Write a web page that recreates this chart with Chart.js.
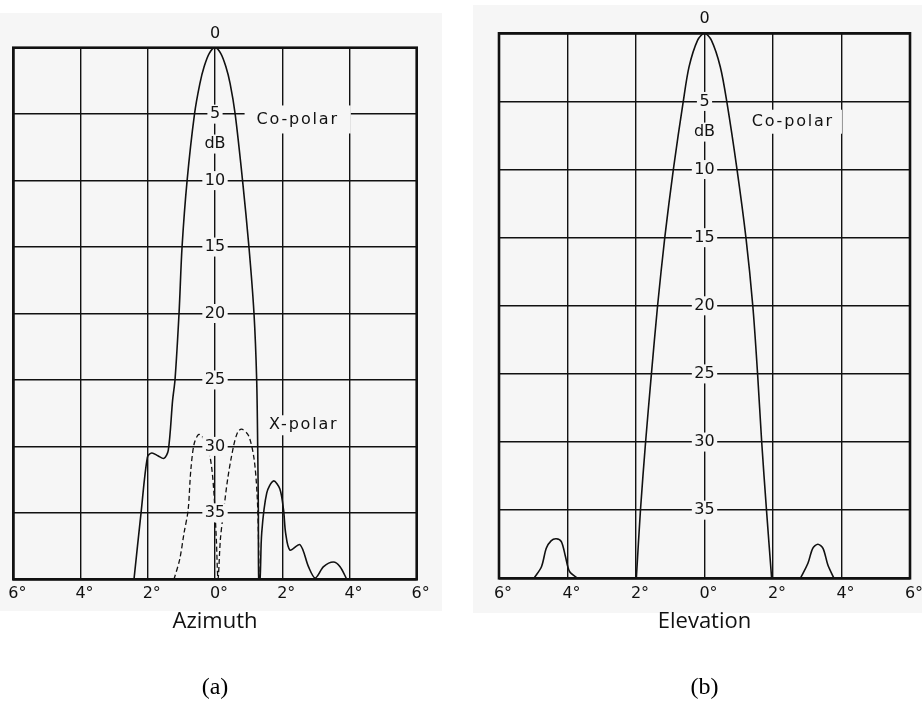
<!DOCTYPE html>
<html>
<head>
<meta charset="utf-8">
<title>Antenna radiation patterns</title>
<script src="https://cdn.jsdelivr.net/npm/chart.js@4.4.1/dist/chart.umd.min.js"></script>
<style>
  html, body { margin: 0; padding: 0; background: #ffffff; }
  body { width: 922px; height: 704px; position: relative; overflow: hidden; }
  .paper { position: absolute; background: #f6f6f6; }
  .panel { position: absolute; top: 0; height: 704px; }
</style>
</head>
<body>
<div class="paper" style="left:0;top:13px;width:442px;height:598px"></div>
<div class="paper" style="left:473px;top:5px;width:449px;height:608px"></div>
<div class="panel" style="left:0;width:440px"><canvas id="azimuth"></canvas></div>
<div class="panel" style="left:460px;width:462px"><canvas id="elevation"></canvas></div>
<script>
// Angle axis tick labels (degrees off boresight) and level tick labels (dB down)
const angleTickLabels = ['6°', '4°', '2°', '0°', '2°', '4°', '6°'];
const levelTicks = [0, -5, -10, -15, -20, -25, -30, -35, -40];
const levelTickLabels = ['0', '5', '10', '15', '20', '25', '30', '35', ''];

// (a) Azimuth, co-polar pattern
const azCoDeg = [-2.41, -2.20, -2.01, -1.88, -1.70, -1.52, -1.39, -1.26, -1.19, -1.07, -0.98, -0.83, -0.61, -0.45, -0.32, -0.17, 0,
                 0.17, 0.32, 0.45, 0.60, 0.82, 1.01, 1.16, 1.24, 1.27, 1.29, 1.30, 1.34, 1.39, 1.54, 1.74, 1.93, 2.04, 2.10,
                 2.23, 2.53, 2.78, 2.98, 3.23, 3.52, 3.72, 3.92];
const azCoDb  = [-40, -35, -30.8, -30.5, -30.7, -30.9, -30.3, -26.5, -25, -20, -15, -10, -5, -2.7, -1.4, -0.42, 0,
                 -0.42, -1.4, -2.7, -5, -10, -15, -20, -25, -30, -35, -40, -40, -36.5, -33.5, -32.6, -33.2, -34.8, -36.5,
                 -37.8, -37.4, -39.05, -39.9, -39.05, -38.7, -39.05, -40];

// (a) Azimuth, cross-polar pattern
const azXDeg = [-1.22, -1.05, -0.92, -0.80, -0.72, -0.62, -0.48, -0.32, -0.14, -0.04, 0.04, 0.09, 0.16, 0.25,
                0.38, 0.55, 0.68, 0.80, 1.00, 1.16, 1.25, 1.29, 1.31];
const azXDb  = [-40, -38.5, -36.5, -34.8, -31.8, -29.8, -29.1, -29.5, -30.9, -33.2, -37, -40, -37, -35,
                -32.4, -30, -28.9, -28.7, -29.2, -30.9, -33.5, -36.5, -40];

// (b) Elevation, co-polar main lobe and the two side lobes
const elMainDeg = [-1.99, -1.87, -1.72, -1.55, -1.37, -1.16, -0.91, -0.62, -0.45, -0.20, 0,
                   0.20, 0.46, 0.65, 0.95, 1.21, 1.41, 1.55, 1.67, 1.81, 1.96];
const elMainDb  = [-40, -35, -30, -25, -20, -15, -10, -5, -2.45, -0.5, 0,
                   -0.5, -2.45, -5, -10, -15, -20, -25, -30, -35, -40];
const elLeftLobeDeg = [-4.98, -4.76, -4.62, -4.48, -4.33, -4.18, -4.06, -3.94, -3.70];
const elLeftLobeDb  = [-40, -39.15, -37.8, -37.25, -37.1, -37.3, -38.4, -39.5, -40];
const elRightLobeDeg = [2.80, 3.02, 3.16, 3.31, 3.46, 3.60, 3.78];
const elRightLobeDb  = [-40, -38.9, -37.8, -37.5, -37.8, -39.0, -40];

const INK = '#111111';
const PAPER = '#f6f6f6';
const TICK_FONT = '16px "DejaVu Sans"';

const toPoints = (deg, db) => deg.map((x, i) => ({ x, y: db[i] }));

// Frame, the dB scale written along the 0° line, and the curve captions
const patternDecor = {
  id: 'patternDecor',
  afterDatasetsDraw(chart, args, opts) {
    const { ctx, chartArea: a, scales: { x, y } } = chart;
    ctx.save();
    ctx.lineWidth = 2.6;
    ctx.strokeStyle = INK;
    ctx.strokeRect(a.left, a.top, a.right - a.left, a.bottom - a.top);

    const cx = x.getPixelForValue(0);
    ctx.font = TICK_FONT;
    ctx.textAlign = 'center';
    ctx.textBaseline = 'middle';
    const boxed = (text, px, py, padX, padY) => {
      const w = ctx.measureText(text).width;
      ctx.fillStyle = PAPER;
      ctx.fillRect(px - w / 2 - padX, py - 6 - padY, w + 2 * padX, 12 + 2 * padY);
      ctx.fillStyle = INK;
      ctx.fillText(text, px, py);
    };
    y.ticks.forEach(t => {
      const label = levelTickLabels[levelTicks.indexOf(t.value)];
      if (!label) return;
      const py = y.getPixelForValue(t.value);
      if (t.value === 0) {
        ctx.fillStyle = INK;
        ctx.fillText(label, cx, a.top - 14);
      } else {
        boxed(label, cx, py, 2.5, 3.5);
      }
    });
    boxed(opts.unit.text, cx, y.getPixelForValue(opts.unit.db), 2.5, 3.5);

    ctx.letterSpacing = '1.8px';
    opts.captions.forEach(c => {
      boxed(c.text, x.getPixelForValue(c.deg), y.getPixelForValue(c.db), c.padX, c.padY);
    });
    ctx.restore();
  }
};

function patternChart(canvasId, datasets, axisTitle, panelTitle, pad, tickPad, titlePad, captions) {
  return new Chart(document.getElementById(canvasId), {
    type: 'line',
    data: { datasets },
    options: {
      responsive: true,
      maintainAspectRatio: false,
      animation: false,
      devicePixelRatio: 1,
      events: [],
      layout: { padding: pad },
      elements: {
        point: { radius: 0 },
        line: { borderColor: INK, borderWidth: 1.6, tension: 0.3, fill: false }
      },
      scales: {
        x: {
          type: 'linear', min: -6, max: 6,
          border: { display: false },
          grid: { color: INK, lineWidth: 1.4, drawTicks: false },
          ticks: {
            stepSize: 2, padding: tickPad, labelOffset: 4, color: INK,
            font: { family: 'DejaVu Sans', size: 16 },
            maxRotation: 0, autoSkip: false,
            callback: (v, i) => angleTickLabels[i]
          },
          title: {
            display: true, text: axisTitle, color: INK,
            font: { family: 'Open Sans', size: 22 },
            padding: { top: titlePad, bottom: 0 }
          },
          // end labels may overhang the frame; the page margin already leaves room for them
          afterFit: scale => { scale.paddingLeft = 0; scale.paddingRight = 0; }
        },
        y: {
          type: 'linear', min: -40, max: 0,
          border: { display: false },
          grid: { color: INK, lineWidth: 1.4, drawTicks: false },
          ticks: { stepSize: 5, display: false }
        }
      },
      plugins: {
        legend: { display: false },
        tooltip: { enabled: false },
        title: {
          display: true, position: 'bottom', text: panelTitle, color: '#000',
          font: { family: 'Liberation Serif', size: 24, weight: 'normal' },
          padding: { top: 38.4, bottom: 0 }
        },
        patternDecor: { unit: { text: 'dB', db: -7.25 }, captions }
      }
    },
    plugins: [patternDecor]
  });
}

patternChart('azimuth', [
  { label: 'Co-polar', data: toPoints(azCoDeg, azCoDb) },
  { label: 'X-polar', data: toPoints(azXDeg, azXDb), borderDash: [5, 3], borderWidth: 1.3 }
], 'Azimuth', '(a)',
  { left: 13.3, right: 23.3, top: 47.7, bottom: 1.6 }, 4.6, 1.1,
  [
    { text: 'Co-polar', deg: 2.46, db: -5.4, padX: 12, padY: 8 },
    { text: 'X-polar', deg: 2.64, db: -28.41, padX: 6, padY: 4 }
  ]);

patternChart('elevation', [
  { label: 'Co-polar', data: toPoints(elMainDeg, elMainDb) },
  { label: 'Co-polar side lobe', data: toPoints(elLeftLobeDeg, elLeftLobeDb) },
  { label: 'Co-polar side lobe', data: toPoints(elRightLobeDeg, elRightLobeDb) }
], 'Elevation', '(b)',
  { left: 39, right: 12, top: 33.3, bottom: 1.6 }, 5.6, 0.1,
  [
    { text: 'Co-polar', deg: 2.58, db: -6.49, padX: 8, padY: 6 }
  ]);
</script>
</body>
</html>
